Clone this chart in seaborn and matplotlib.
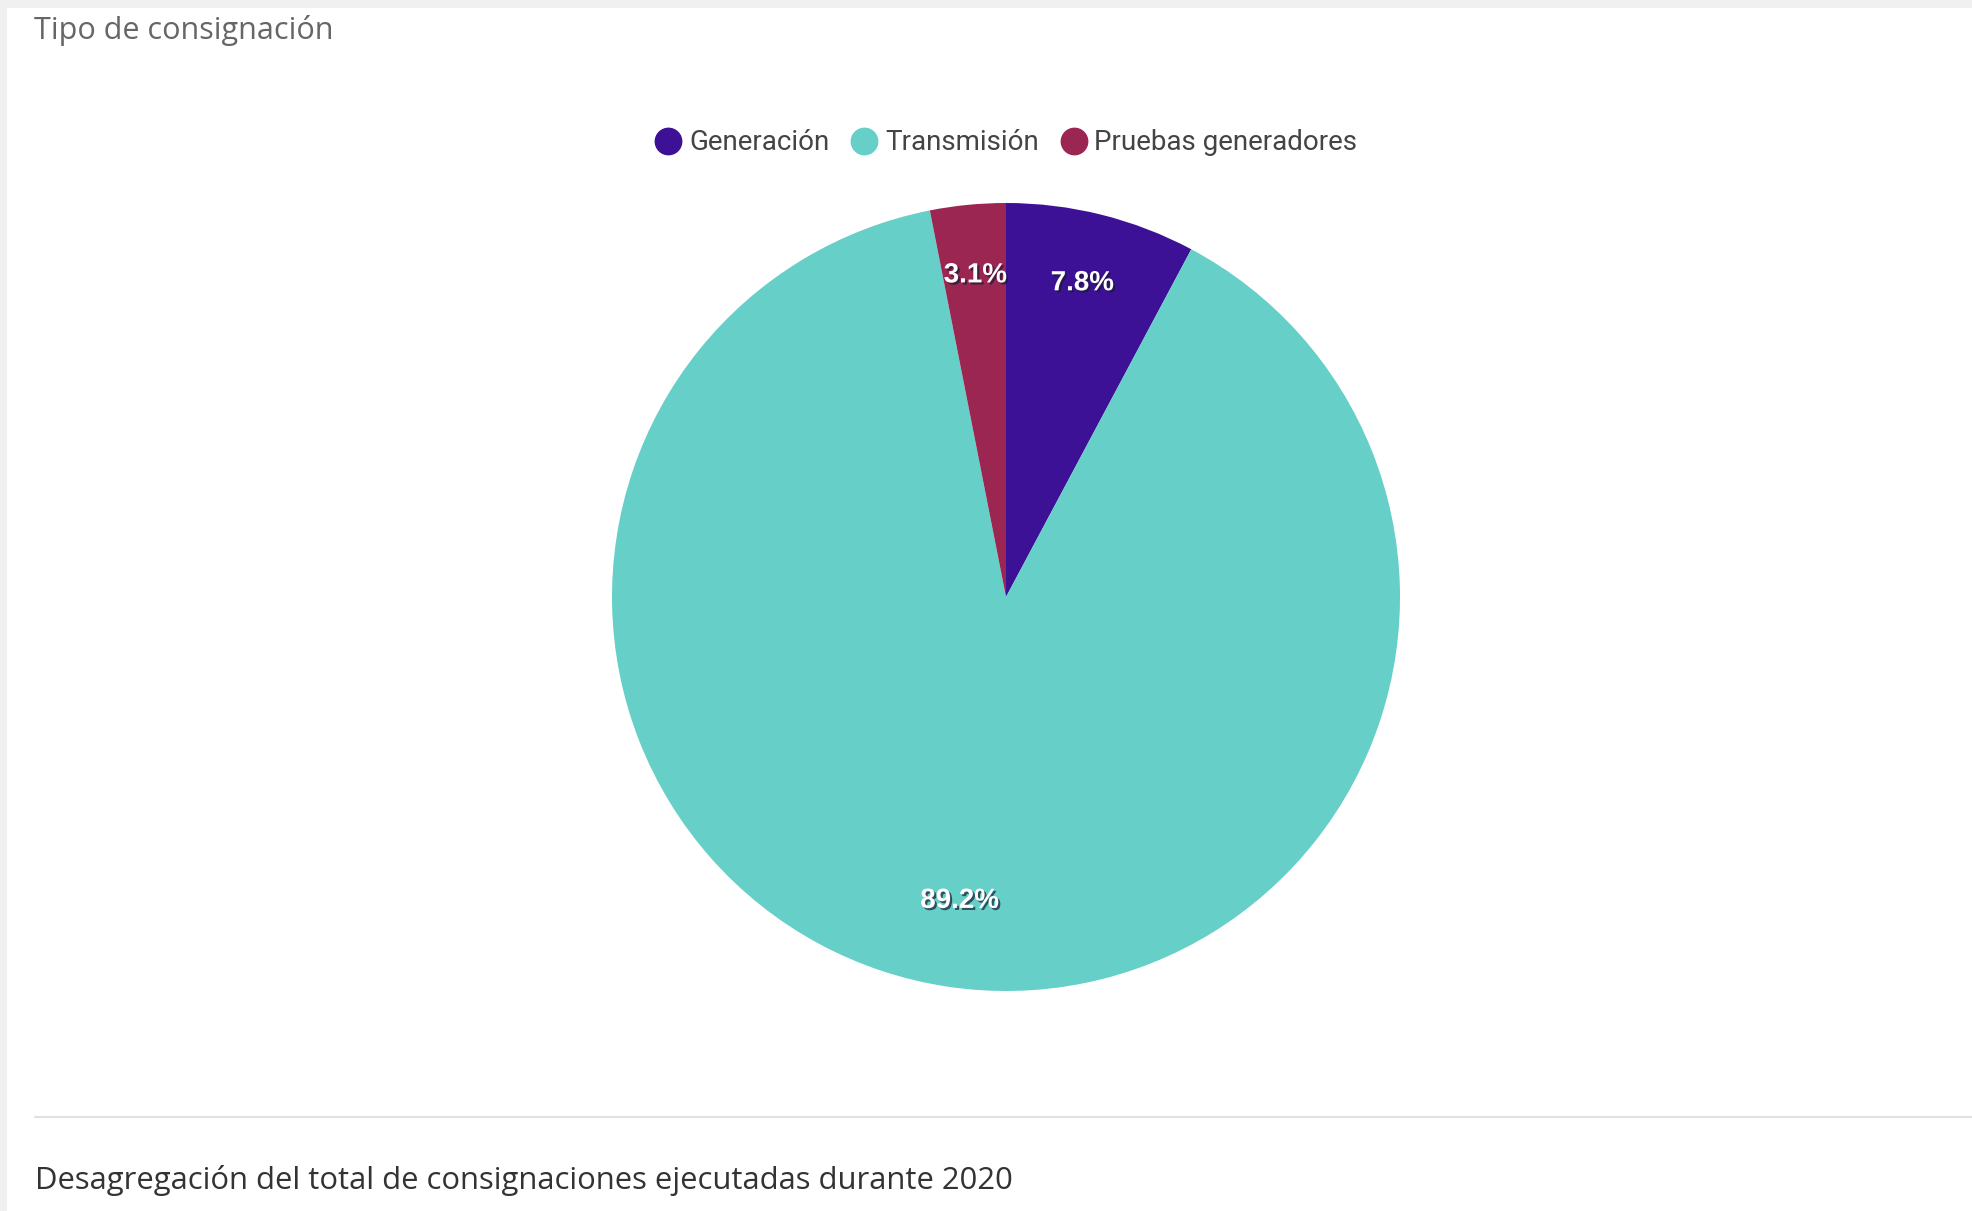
import matplotlib
matplotlib.use("Agg")
import matplotlib.pyplot as plt
import matplotlib.patheffects as pe
from matplotlib.lines import Line2D
from matplotlib.patches import Rectangle
import numpy as np
import seaborn as sns

# Data
categories = ["Generación", "Transmisión", "Pruebas generadores"]
shares = [7.8, 89.2, 3.1]
slice_labels = ["7.8%", "89.2%", "3.1%"]
colors = ["#3c1196", "#66cfc8", "#9b2652"]
title_text = "Tipo de consignación"
footer_text = "Desagregación del total de consignaciones ejecutadas durante 2020"

sns.set_theme(style="white")
plt.rcParams["font.family"] = ["Roboto", "DejaVu Sans"]
palette = sns.color_palette(colors)

W, H = 1972, 1211
fig = plt.figure(figsize=(W / 100, H / 100), dpi=100)
fig.patch.set_facecolor("white")

# gray frame bands (top and left)
fig.patches.append(Rectangle((0, 1 - 8 / H), 1, 8 / H, transform=fig.transFigure,
                             facecolor="#f0f0f0", edgecolor="none", zorder=0))
fig.patches.append(Rectangle((0, 0), 7 / W, 1, transform=fig.transFigure,
                             facecolor="#f0f0f0", edgecolor="none", zorder=0))

# pie axes
cx, cy, r = 1006, 597, 394
ax = fig.add_axes([(cx - r) / W, (H - cy - r) / H, 2 * r / W, 2 * r / H])
wedges, _ = ax.pie(shares, colors=palette, startangle=90, counterclock=False,
                   radius=1.0, wedgeprops=dict(linewidth=0))
ax.set_xlim(-1, 1)
ax.set_ylim(-1, 1)
ax.set_aspect("equal")
ax.axis("off")

# slice labels
for w, lab in zip(wedges, slice_labels):
    mid = np.deg2rad((w.theta1 + w.theta2) / 2)
    d = 0.80
    ax.text(d * np.cos(mid), d * np.sin(mid) + 0.02, lab, ha="center", va="center",
            fontsize=20, fontweight="bold", color="white",
            family=["Liberation Sans", "DejaVu Sans"],
            path_effects=[pe.withSimplePatchShadow(offset=(1.5, -1.5),
                                                  shadow_rgbFace=(0.1, 0.1, 0.2),
                                                  alpha=0.7)])

# legend
handles = [Line2D([0], [0], marker="o", linestyle="none", markersize=19,
                  markerfacecolor=c, markeredgecolor=c) for c in palette]
fig.legend(handles, categories, loc="center", bbox_to_anchor=(cx / W, 1 - 143 / H),
           ncol=3, frameon=False, fontsize=20, handletextpad=0.25,
           columnspacing=0.75, labelcolor="#444444", handlelength=1.0)

# title
fig.text(34 / W, 1 - 30 / H, title_text, ha="left", va="center",
         fontsize=22, color="#666666", family=["Open Sans", "DejaVu Sans"])

# separator line
fig.add_artist(Line2D([35 / W, 1], [1 - 1117 / H, 1 - 1117 / H],
                      transform=fig.transFigure, color="#e0e0e0", linewidth=1.5))

# footer text
fig.text(35 / W, 1 - 1180 / H, footer_text, ha="left", va="center",
         fontsize=22.3, color="#333333", family=["Open Sans", "DejaVu Sans"])

fig.savefig("out.png", dpi=100, facecolor="white")
